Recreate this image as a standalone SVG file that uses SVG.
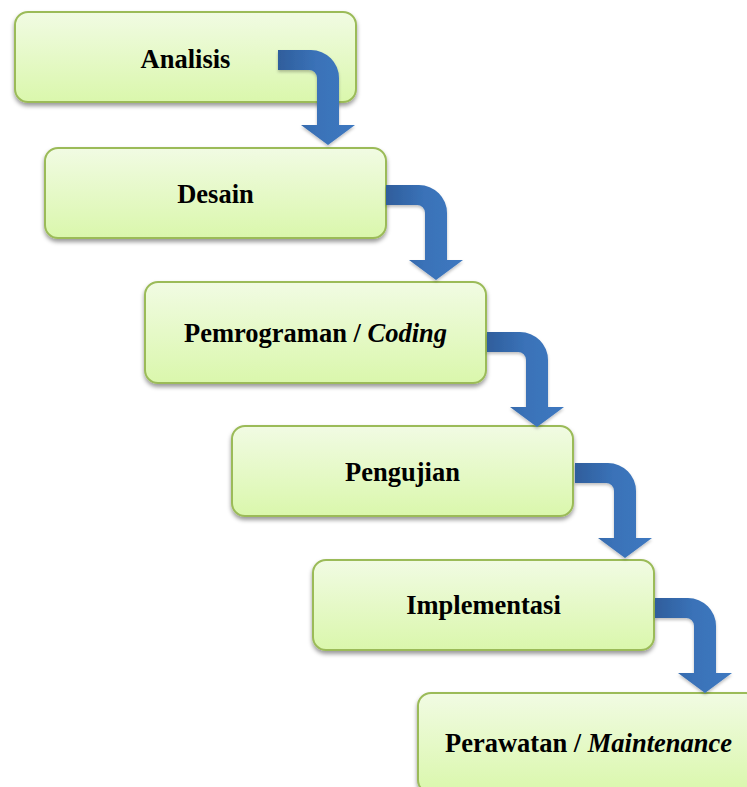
<svg xmlns="http://www.w3.org/2000/svg" xmlns:xlink="http://www.w3.org/1999/xlink" width="747" height="787" viewBox="0 0 747 787">
  <defs>
    <linearGradient id="boxFill" x1="0" y1="0" x2="0" y2="1">
      <stop offset="0" stop-color="#F1FBE3"/>
      <stop offset="1" stop-color="#DAF7AC"/>
    </linearGradient>
    <linearGradient id="arrFill" x1="0" y1="0" x2="1" y2="0">
      <stop offset="0" stop-color="#2F5E9C"/>
      <stop offset="0.5" stop-color="#3A72B8"/>
      <stop offset="1" stop-color="#3D78C0"/>
    </linearGradient>
    <filter id="shadow" x="-10%" y="-20%" width="120%" height="150%">
      <feDropShadow dx="0" dy="3" stdDeviation="2.2" flood-color="#000" flood-opacity="0.4"/>
    </filter>
    <filter id="ashadow" x="-20%" y="-20%" width="140%" height="140%">
      <feDropShadow dx="0" dy="2" stdDeviation="1.5" flood-color="#000" flood-opacity="0.25"/>
    </filter>
    <path id="arr" d="M0 0 L33 0 A28 28 0 0 1 61 28 L61 75 L77 75 L50 95 L23 75 L39 75 L39 28 A8 8 0 0 0 31 20 L0 20 Z"/>
  </defs>
  <style>
    .box { fill: url(#boxFill); stroke: #9BBB59; stroke-width: 2; filter: url(#shadow); }
    .lbl { font-size: 26.5px; font-weight: bold; fill: #000; text-anchor: middle; }
    .it { font-style: italic; }
    .arrow { fill: url(#arrFill); filter: url(#ashadow); }
  </style>
  <rect width="747" height="787" fill="#fff"/>
  <g id="node-analisis">
    <rect class="box" x="15" y="12" width="341" height="90" rx="13"/>
    <text class="lbl" font-family="'Liberation Serif', 'DejaVu Serif', serif" x="185.5" y="68">Analisis</text>
  </g>
  <g id="node-desain">
    <rect class="box" x="45" y="148" width="341" height="90" rx="13"/>
    <text class="lbl" font-family="'Liberation Serif', 'DejaVu Serif', serif" x="215.5" y="203">Desain</text>
  </g>
  <g id="node-pemrograman">
    <rect class="box" x="145" y="282" width="341" height="101" rx="13"/>
    <text class="lbl" font-family="'Liberation Serif', 'DejaVu Serif', serif" x="315.5" y="342">Pemrograman / <tspan class="it">Coding</tspan></text>
  </g>
  <g id="node-pengujian">
    <rect class="box" x="232" y="426" width="341" height="90" rx="13"/>
    <text class="lbl" font-family="'Liberation Serif', 'DejaVu Serif', serif" x="402.5" y="481">Pengujian</text>
  </g>
  <g id="node-implementasi">
    <rect class="box" x="313" y="560" width="341" height="90" rx="13"/>
    <text class="lbl" font-family="'Liberation Serif', 'DejaVu Serif', serif" x="483.5" y="614">Implementasi</text>
  </g>
  <g id="node-perawatan">
    <rect class="box" x="418" y="693" width="341" height="100" rx="13"/>
    <text class="lbl" font-family="'Liberation Serif', 'DejaVu Serif', serif" x="588.5" y="752">Perawatan / <tspan class="it">Maintenance</tspan></text>
  </g>
  <g id="connectors">
    <use class="arrow" href="#arr" xlink:href="#arr" x="278" y="50"/>
    <use class="arrow" href="#arr" xlink:href="#arr" x="386" y="185"/>
    <use class="arrow" href="#arr" xlink:href="#arr" x="487" y="332"/>
    <use class="arrow" href="#arr" xlink:href="#arr" x="575" y="463"/>
    <use class="arrow" href="#arr" xlink:href="#arr" x="655" y="598"/>
  </g>
</svg>
